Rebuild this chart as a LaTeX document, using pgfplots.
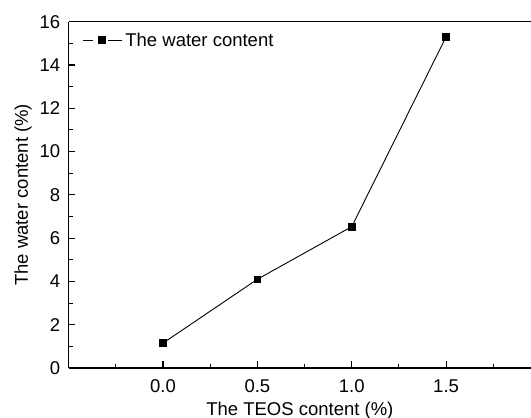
\documentclass[border=0pt]{standalone}
\usepackage{fontspec}
\setmainfont{Liberation Sans}
\usepackage{pgfplots}
\pgfplotsset{compat=1.18}
\begin{document}
\begin{tikzpicture}
\begin{axis}[
  scale only axis,
  width=462.3bp, height=346.3bp,
  xmin=-0.5, xmax=1.95,
  ymin=0, ymax=16,
  axis x line=box, axis y line=left,
  axis line style={line width=1.2bp, -},
  xtick={0,0.5,1.0,1.5},
  xticklabels={0.0,0.5,1.0,1.5},
  minor xtick={-0.25,0.25,0.75,1.25,1.75},
  ytick={0,2,...,16},
  minor ytick={1,3,...,15},
  xtick pos=bottom, ytick pos=left,
  tick align=inside,
  major tick length=6.5bp, minor tick length=4bp,
  every tick/.style={line width=1.1bp, black},
  every minor tick/.style={line width=1.1bp, black},
  tick label style={font=\fontsize{18.5bp}{21bp}\selectfont},
  xticklabel style={anchor=base, yshift=-24bp},
  yticklabel style={anchor=east, xshift=-5bp},
  /pgf/number format/assume math mode=true,
  xlabel={The TEOS content (\%)},
  ylabel={The water content (\%)},
  every axis x label/.style={at={(rel axis cs:0.5,0)}, anchor=base, yshift=-47bp,
    font=\fontsize{18.5bp}{21bp}\selectfont},
  every axis y label/.style={at={(rel axis cs:0,0.5)}, xshift=-45.5bp, anchor=center, rotate=90,
    font=\fontsize{18.5bp}{21bp}\selectfont},
  legend style={at={(rel axis cs:0.0305,0.947)}, anchor=west, draw=none, fill=none,
    inner sep=0pt, nodes={inner sep=2.5bp},
    font=\fontsize{18.5bp}{21bp}\selectfont},
  legend cell align=left,
  legend image code/.code={%
    \draw[mark=none] (0bp,0bp) -- (10bp,0bp);
    \draw[mark=none] (25bp,0bp) -- (39bp,0bp);
    \draw[mark repeat=1] plot coordinates {(18.5bp,0bp)};},
]
\addplot[black, line width=0.9bp, mark=square*, mark size=3.3bp, mark options={solid}]
 coordinates {(0.0,1.15) (0.5,4.1) (1.0,6.53) (1.5,15.3)};
\addlegendentry{The water content}
\coordinate (o) at (rel axis cs:0,0);
\end{axis}
\pgfresetboundingbox
\path[use as bounding box] (o) ++(-68.7bp,-50bp) rectangle ++(531bp,418bp);
\end{tikzpicture}
\end{document}
